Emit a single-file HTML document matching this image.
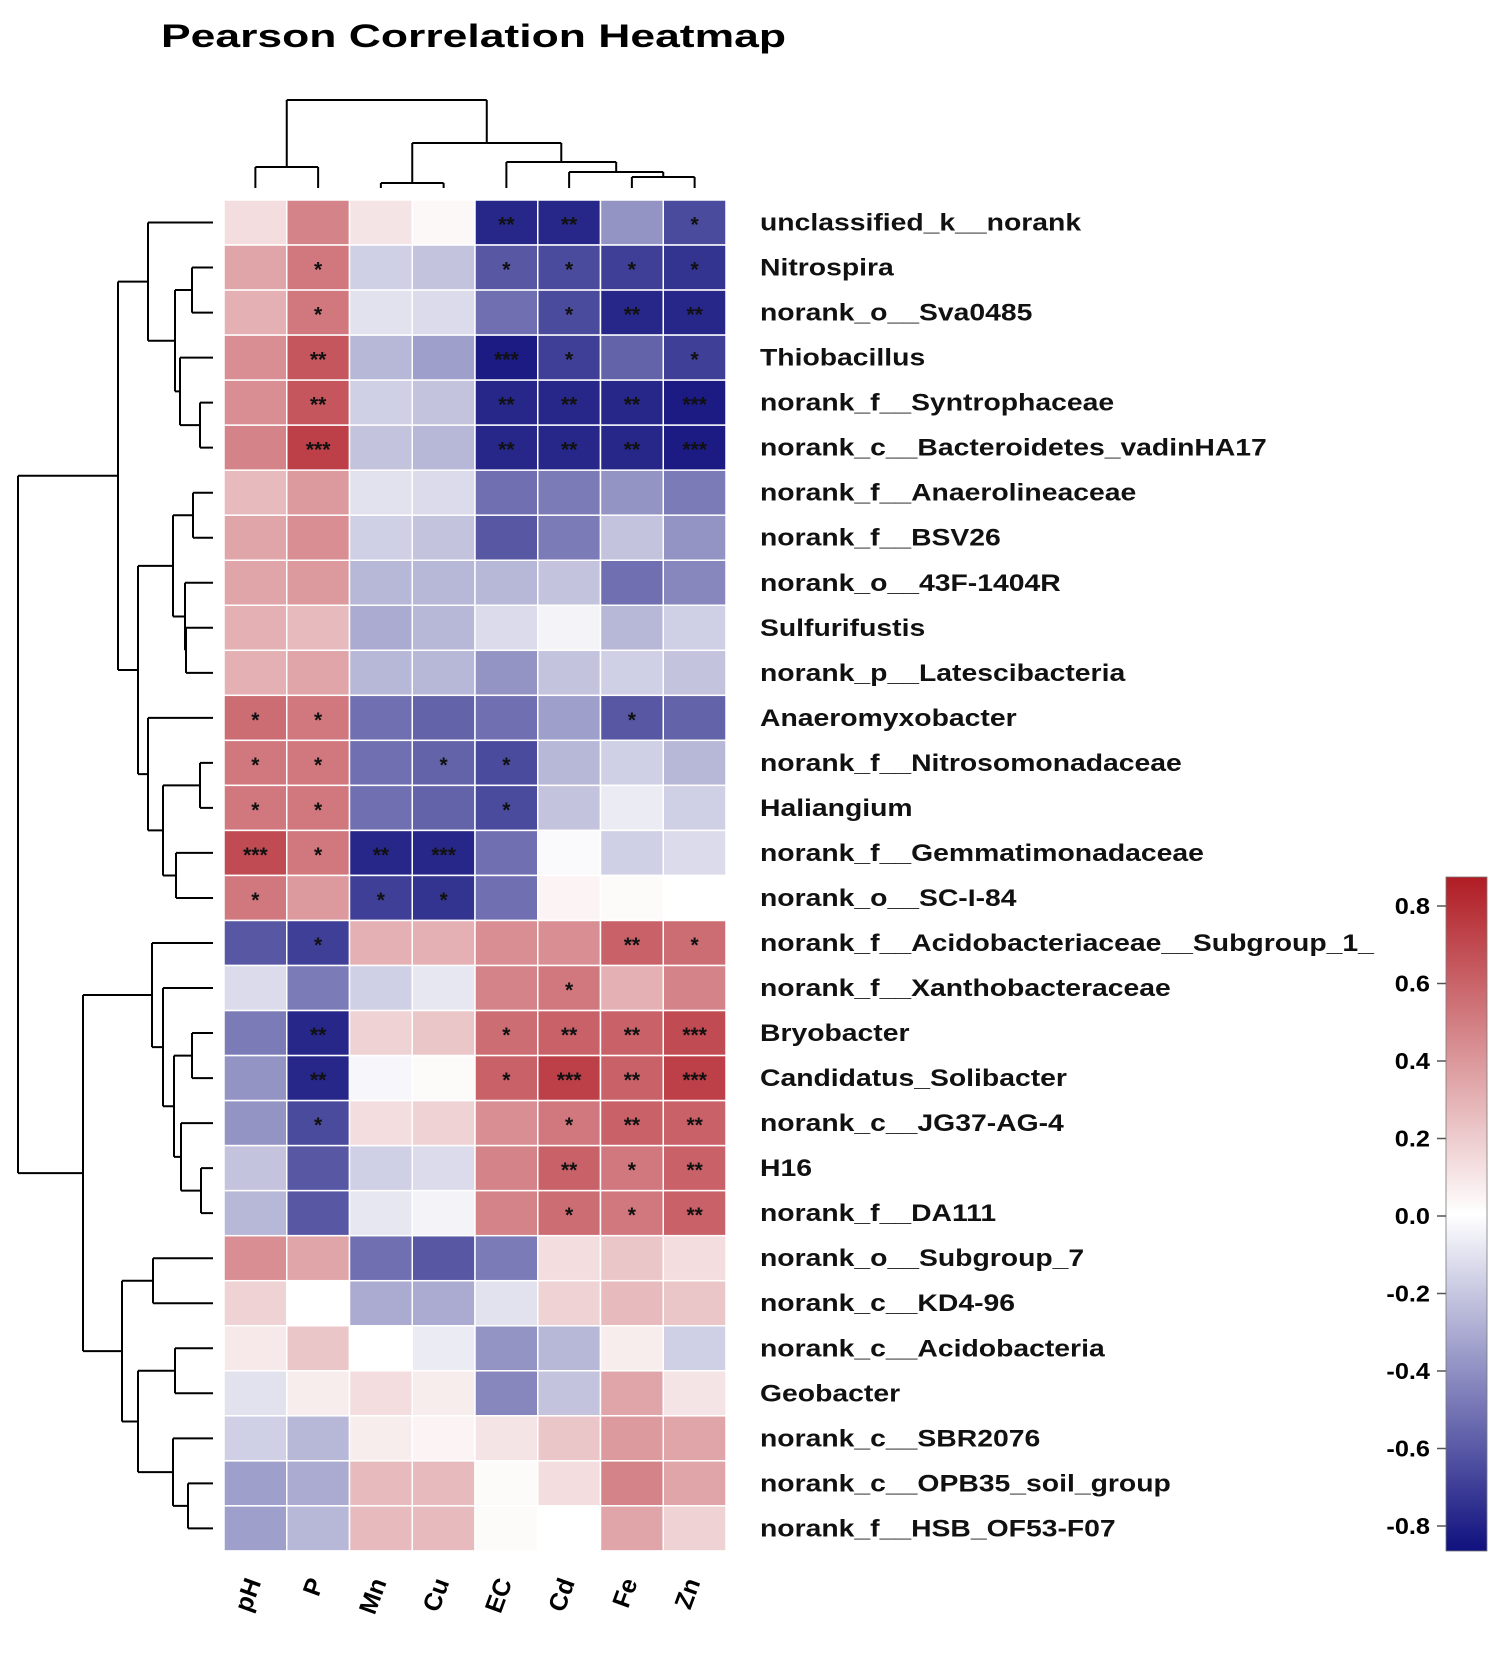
<!DOCTYPE html>
<html><head><meta charset="utf-8">
<style>html,body{margin:0;padding:0;background:#fff}svg{display:block}</style>
</head><body>
<svg id="s" width="1505" height="1665" viewBox="0 0 1505 1665" xmlns="http://www.w3.org/2000/svg" font-family="Liberation Sans, Arial, sans-serif">
<defs><linearGradient id="cb" x1="0" y1="0" x2="0" y2="1">
<stop offset="0" stop-color="#b01c24"/><stop offset="0.5" stop-color="#ffffff"/><stop offset="1" stop-color="#10107f"/>
</linearGradient></defs>
<text x="161" y="47" font-size="32" font-weight="bold" textLength="625" lengthAdjust="spacingAndGlyphs">Pearson Correlation Heatmap</text>
<g id="g"></g>
</svg>
<script>
const names=["unclassified_k__norank","Nitrospira","norank_o__Sva0485","Thiobacillus","norank_f__Syntrophaceae","norank_c__Bacteroidetes_vadinHA17","norank_f__Anaerolineaceae","norank_f__BSV26","norank_o__43F-1404R","Sulfurifustis","norank_p__Latescibacteria","Anaeromyxobacter","norank_f__Nitrosomonadaceae","Haliangium","norank_f__Gemmatimonadaceae","norank_o__SC-I-84","norank_f__Acidobacteriaceae__Subgroup_1_","norank_f__Xanthobacteraceae","Bryobacter","Candidatus_Solibacter","norank_c__JG37-AG-4","H16","norank_f__DA111","norank_o__Subgroup_7","norank_c__KD4-96","norank_c__Acidobacteria","Geobacter","norank_c__SBR2076","norank_c__OPB35_soil_group","norank_f__HSB_OF53-F07"];
const V=[
[.15,.55,.12,.03,-.9,-.9,-.45,-.75],[.4,.6,-.2,-.25,-.7,-.75,-.8,-.85],[.35,.6,-.12,-.15,-.6,-.75,-.9,-.9],
[.5,.75,-.3,-.4,-.95,-.8,-.65,-.8],[.5,.75,-.2,-.25,-.9,-.9,-.9,-.95],[.55,.85,-.25,-.3,-.9,-.9,-.9,-.95],
[.3,.45,-.12,-.15,-.6,-.55,-.45,-.55],[.4,.5,-.2,-.25,-.7,-.55,-.25,-.45],[.4,.45,-.3,-.3,-.3,-.25,-.6,-.5],
[.35,.3,-.35,-.3,-.15,-.05,-.3,-.2],[.35,.4,-.3,-.3,-.45,-.25,-.2,-.25],[.65,.6,-.6,-.65,-.6,-.4,-.7,-.65],
[.6,.6,-.6,-.65,-.75,-.3,-.2,-.3],[.6,.6,-.6,-.65,-.75,-.25,-.08,-.2],[.8,.6,-.9,-.9,-.6,-.02,-.2,-.15],
[.6,.45,-.8,-.85,-.6,.05,.02,0],[-.7,-.8,.35,.35,.5,.5,.7,.65],[-.15,-.55,-.2,-.1,.55,.6,.35,.55],
[-.55,-.9,.2,.25,.65,.7,.7,.8],[-.45,-.9,-.03,.02,.7,.85,.7,.85],[-.45,-.75,.15,.2,.5,.6,.7,.7],
[-.25,-.7,-.2,-.15,.55,.7,.6,.7],[-.3,-.7,-.1,-.05,.55,.65,.6,.7],[.5,.4,-.6,-.7,-.55,.15,.25,.15],
[.2,0,-.35,-.35,-.12,.2,.3,.25],[.1,.25,0,-.08,-.45,-.3,.08,-.2],[-.12,.08,.15,.08,-.5,-.25,.4,.12],
[-.2,-.3,.08,.05,.12,.25,.45,.4],[-.4,-.35,.3,.3,.02,.15,.55,.4],[-.4,-.3,.3,.3,.02,0,.4,.2]];
const e="";
const S=[
[e,e,e,e,"**","**",e,"*"],
[e,"*",e,e,"*","*","*","*"],
[e,"*",e,e,e,"*","**","**"],
[e,"**",e,e,"***","*",e,"*"],
[e,"**",e,e,"**","**","**","***"],
[e,"***",e,e,"**","**","**","***"],
[],[],[],[],[],
["*","*",e,e,e,e,"*",e],
["*","*",e,"*","*",e,e,e],
["*","*",e,e,"*",e,e,e],
["***","*","**","***",e,e,e,e],
["*",e,"*","*",e,e,e,e],
[e,"*",e,e,e,e,"**","*"],
[e,e,e,e,e,"*",e,e],
[e,"**",e,e,"*","**","**","***"],
[e,"**",e,e,"*","***","**","***"],
[e,"*",e,e,e,"*","**","**"],
[e,e,e,e,e,"**","*","**"],
[e,e,e,e,e,"*","*","**"]];
const cols=["pH","P","Mn","Cu","EC","Cd","Fe","Zn"];
const X0=224,CW=62.75,Y0=200,RH=45.03;
function col(v){let r,g,b;if(v<0){let t=Math.min(1,-v);r=255-240*t;g=255-240*t;b=255-130*t;}else{let t=Math.min(1,v);r=255-77*t;g=255-225*t;b=255-215*t;}return `rgb(${r|0},${g|0},${b|0})`;}
let h="";
for(let i=0;i<30;i++){const st=S[i]||[];for(let j=0;j<8;j++){const x=X0+j*CW,y=Y0+i*RH;
h+=`<rect x="${x}" y="${y}" width="${CW}" height="${RH}" fill="${col(V[i][j])}" stroke="#fff" stroke-width="1.5"/>`;
if(st[j])h+=`<text x="${x+CW/2}" y="${y+RH/2+9}" font-size="21" font-weight="bold" text-anchor="middle" fill="#111">${st[j]}</text>`;}
h+=`<text class="lab" x="760" y="${Y0+i*RH+RH/2+8}" font-size="24" font-weight="bold" fill="#111">${names[i]}</text>`;}
cols.forEach((c,j)=>{const cx=X0+j*CW+CW/2+6;h+=`<text x="${cx}" y="1582" font-size="25" font-weight="bold" text-anchor="end" transform="rotate(-70 ${cx} 1582)">${c}</text>`;});
h+=`<rect x="1446" y="877" width="41" height="674" fill="url(#cb)" stroke="#777" stroke-width="0.8"/>`;
for(let k=-4;k<=4;k++){const v=k*0.2,y=1216-v*387.5;const lab=(v<0?"-":"")+Math.abs(v).toFixed(1);
h+=`<line x1="1437" y1="${y}" x2="1446" y2="${y}" stroke="#555" stroke-width="1.5"/><text class="tk" x="1430" y="${y+8}" font-size="23" font-weight="bold" text-anchor="end">${lab}</text>`;}
const LX=213;
function rt(n){if(typeof n==="number")return {y:Y0+(n-0.5)*RH,x:LX};const a=rt(n[1]),b=rt(n[2]);const x=n[0];
h+=`<path d="M${x} ${a.y}H${a.x}M${x} ${b.y}H${b.x}M${x} ${a.y}V${b.y}" stroke="#000" stroke-width="2" fill="none"/>`;return {x:x,y:(a.y+b.y)/2};}
const E=[173,[193,7,8],[185,9,[186,10,11]]],F=[148,12,[163,[200,13,14],[176,15,16]]];
const A=[118,[148,1,[175,[192,2,3],[180,4,[200,5,6]]]],[138,E,F]];
const H=[152,17,[163,18,[174,[192,19,20],[181,21,[201,22,23]]]]],I=[122,[153,24,25],[138,[175,26,27],[173,28,[188,29,30]]]];
rt([18,A,[83,H,I]]);
function ct(n){if(typeof n==="number")return {x:X0+(n+0.5)*CW,y:188};const a=ct(n[1]),b=ct(n[2]);const y=n[0];
h+=`<path d="M${a.x} ${y}V${a.y}M${b.x} ${y}V${b.y}M${a.x} ${y}H${b.x}" stroke="#000" stroke-width="2" fill="none"/>`;return {x:(a.x+b.x)/2,y:y};}
ct([100,[167,0,1],[143,[183,2,3],[162,4,[172,5,[177,6,7]]]]]);
document.getElementById("g").innerHTML=h;
document.querySelectorAll(".lab").forEach(t=>{const w=t.getComputedTextLength();t.setAttribute("textLength",(w*1.18).toFixed(1));t.setAttribute("lengthAdjust","spacingAndGlyphs");});
document.querySelectorAll(".tk").forEach(t=>{const w=t.getComputedTextLength();t.setAttribute("textLength",(w*1.1).toFixed(1));t.setAttribute("lengthAdjust","spacingAndGlyphs");});
</script>
</body></html>
